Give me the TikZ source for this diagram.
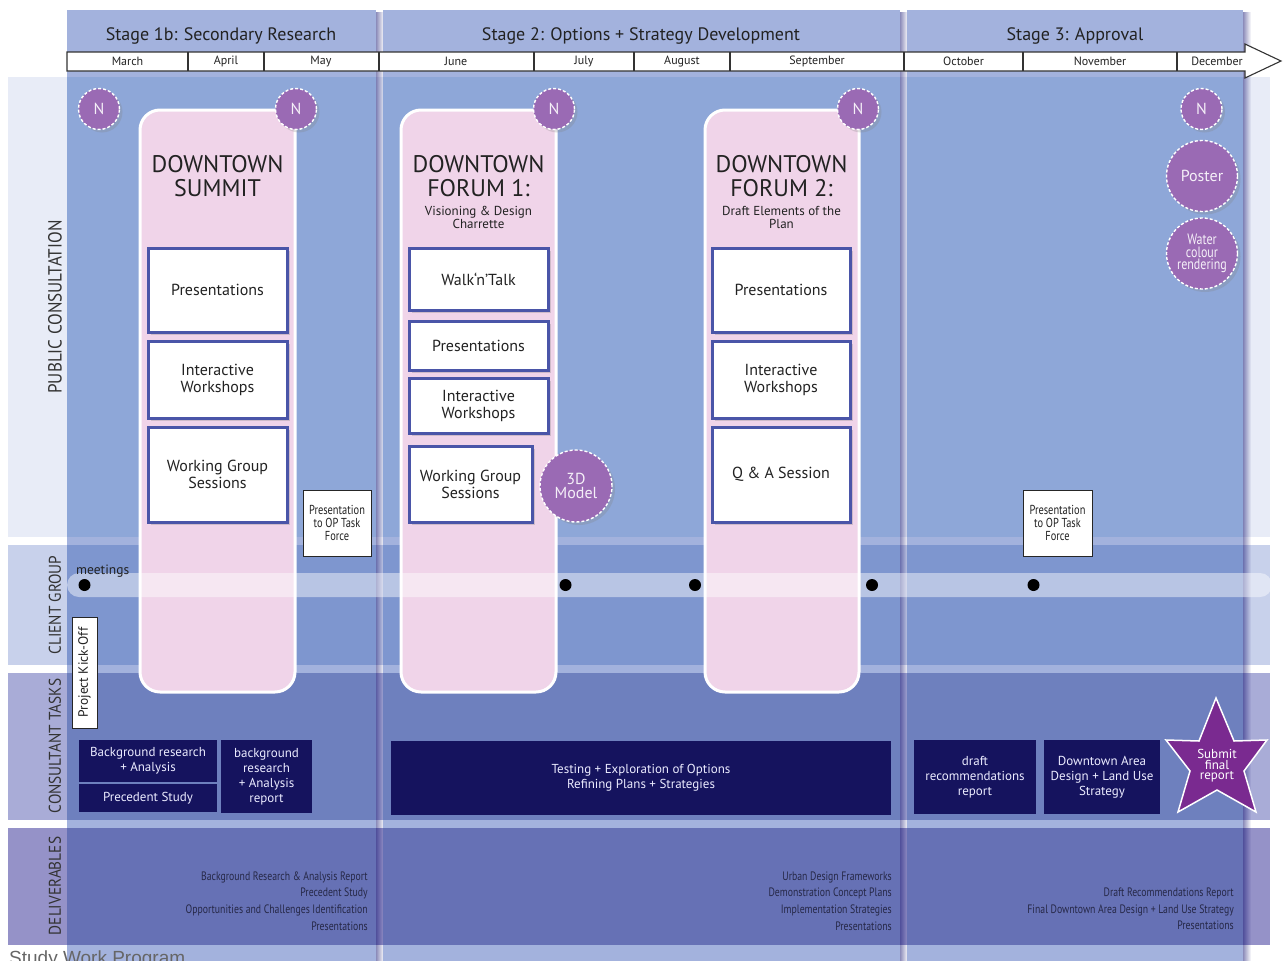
\documentclass[tikz,border=0pt]{standalone}
\usepackage{fontspec}
\setmainfont{PT Sans}
\newfontfamily\narrowf[FakeStretch=0.8]{PT Sans}
\newfontfamily\labelf[FakeStretch=0.9]{PT Sans}
\newfontfamily\arialf{Liberation Sans}
\usetikzlibrary{shadows,fadings,shapes.geometric}
\definecolor{rowPC}{HTML}{E8ECF7}
\definecolor{rowCG}{HTML}{C8D1EB}
\definecolor{rowCT}{HTML}{A9ACD7}
\definecolor{rowDL}{HTML}{9592C8}
\definecolor{colTop}{HTML}{A3B2DD}
\definecolor{colPC}{HTML}{8EA7D8}
\definecolor{colCG}{HTML}{7E96CF}
\definecolor{colCT}{HTML}{6E80BE}
\definecolor{colDL}{HTML}{6671B5}
\definecolor{pinkF}{HTML}{F0D4E9}
\definecolor{boxBorder}{HTML}{4A55A8}
\definecolor{navyF}{HTML}{15135E}
\definecolor{circP}{HTML}{9A6AB4}
\definecolor{starP}{HTML}{7A2A90}
\definecolor{txt}{HTML}{222222}
\definecolor{delTxt}{HTML}{262847}
\tikzfading[name=fade right, left color=transparent!0, right color=transparent!100]
\begin{document}
\begin{tikzpicture}[x=1pt,y=-1pt,
  pinkbox/.style={fill=pinkF, draw=white, line width=3pt, rounded corners=20pt},
  wbox/.style={draw=boxBorder, line width=3pt, fill=white, inner sep=0pt, align=center,
     text=txt, font=\fontsize{16}{17}\selectfont,
     drop shadow={shadow xshift=3pt, shadow yshift=-3pt, opacity=0.3}},
  ncirc/.style={circle, fill=circP, draw=white, densely dashed, line width=1.4pt,
     inner sep=0pt, text=white!90!circP, align=center,
     drop shadow={shadow xshift=3pt, shadow yshift=-3pt, opacity=0.25}},
  cbox/.style={fill=navyF, inner sep=0pt, align=center, text=white!92!blue,
     font=\fontsize{13}{15}\selectfont},
  optf/.style={draw=black!85, fill=white, line width=1pt, inner sep=0pt, align=center,
     text=txt, font=\narrowf\fontsize{13}{13}\selectfont},
  deliv/.style={anchor=east, align=right, inner sep=0pt, text=delTxt,
     font=\narrowf\fontsize{12.2}{16.7}\selectfont},
  rowlabel/.style={rotate=90, text=black!80, font=\labelf\fontsize{17}{17}\selectfont},
  month/.style={text=txt, font=\fontsize{12}{12}\selectfont},
  stagetitle/.style={text=txt, font=\fontsize{18}{18}\selectfont},
  forumtitle/.style={text=txt, align=center, font=\fontsize{24}{23.5}\selectfont},
  forumsub/.style={text=txt, align=center, font=\fontsize{13}{13}\selectfont},
  dot/.style={circle, fill=black, inner sep=0pt, minimum size=12pt}
]
\useasboundingbox (0,0) rectangle (1283,961);
% rows
\fill[rowPC] (8,77) rectangle (1270,537);
\fill[rowCG] (8,545) rectangle (1270,665);
\fill[rowCT] (8,673) rectangle (1270,820);
\fill[rowDL] (8,828) rectangle (1270,945);
% stage columns
\foreach \a/\b in {67/376,383/900,907/1243}{
  \fill[colTop] (\a,10) rectangle (\b,961);
  \fill[colPC] (\a,77) rectangle (\b,537);
  \fill[colCG] (\a,545) rectangle (\b,665);
  \fill[colCT] (\a,673) rectangle (\b,820);
  \fill[colDL] (\a,828) rectangle (\b,945);
  \fill[black!60!blue, opacity=0.45, path fading=fade right] (\b,10) rectangle (\b+8,961);
}
% stage titles
\node[stagetitle] (s1) at (221,36) {Stage 1b: Secondary Research};
\node[stagetitle] (s2) at (641,36) {Stage 2: Options + Strategy Development};
\node[stagetitle] (s3) at (1075,36) {Stage 3: Approval};
% timeline
\draw[fill=white, draw=black!80, line width=1.1pt] (67,52) -- (1245,52) -- (1245,44) -- (1281,61) -- (1245,78) -- (1245,71) -- (67,71) -- cycle;
\foreach \x in {188,264,379,534,634,730,904,1023,1177}{
  \draw[black!80, line width=1.1pt] (\x,52) -- (\x,71);
}
\node[month] (m1) at (127.5,61.5) {March};
\node[month] (m2) at (226,61.5) {April};
\node[month] (m3) at (321,61.5) {May};
\node[month] (m4) at (456,61.5) {June};
\node[month] (m5) at (584,61.5) {July};
\node[month] (m6) at (682,61.5) {August};
\node[month] (m7) at (817,61.5) {September};
\node[month] (m8) at (963.5,61.5) {October};
\node[month] (m9) at (1100,61.5) {November};
\node[month] (m10) at (1217,61.5) {December};
% row labels
\node[rowlabel, font=\labelf\fontsize{19}{19}\selectfont] (lpc) at (55,307) {PUBLIC CONSULTATION};
\node[rowlabel] (lcg) at (55,605) {CLIENT GROUP};
\node[rowlabel] (lct) at (55,746) {CONSULTANT TASKS};
\node[rowlabel] (ldl) at (55,886) {DELIVERABLES};
% pink forum boxes
\draw[pinkbox] (140,110) rectangle (295,692);
\draw[pinkbox] (401,110) rectangle (556,692);
\draw[pinkbox] (705,110) rectangle (859,692);
\node[forumtitle] (t1) at (217.5,176) {DOWNTOWN\\SUMMIT};
\node[forumtitle] (t2) at (478.5,176) {DOWNTOWN\\FORUM 1:};
\node[forumsub] (t2s) at (478.5,217.5) {Visioning \& Design\\Charrette};
\node[forumtitle] (t3) at (781.5,176) {DOWNTOWN\\FORUM 2:};
\node[forumsub] (t3s) at (781.5,217.5) {Draft Elements of the\\Plan};
% white boxes
\node[wbox, minimum width=139pt, minimum height=84pt] (a1) at (217.5,290) {Presentations};
\node[wbox, minimum width=139pt, minimum height=77pt] (a2) at (217.5,379.5) {Interactive\\Workshops};
\node[wbox, minimum width=139pt, minimum height=95pt] (a3) at (217.5,474.5) {Working Group\\Sessions};
\node[wbox, minimum width=139pt, minimum height=62pt] (b1) at (478.5,279) {Walk`n'Talk};
\node[wbox, minimum width=139pt, minimum height=49pt] (b2) at (478.5,345.5) {Presentations};
\node[wbox, minimum width=139pt, minimum height=55pt] (b3) at (478.5,405.5) {Interactive\\Workshops};
\node[wbox, minimum width=123pt, minimum height=76pt] (b4) at (470.5,484) {Working Group\\Sessions};
\node[wbox, minimum width=138pt, minimum height=84pt] (c1) at (781,290) {Presentations};
\node[wbox, minimum width=138pt, minimum height=77pt] (c2) at (781,379.5) {Interactive\\Workshops};
\node[wbox, minimum width=138pt, minimum height=95pt] (c3) at (781,474.5) {Q \& A Session};
% task force boxes
\node[optf, minimum width=68pt, minimum height=66pt] (op1) at (337,523) {Presentation\\to OP Task\\Force};
\node[optf, minimum width=69pt, minimum height=66pt] (op2) at (1057.5,523) {Presentation\\to OP Task\\Force};
% circles
\node[ncirc, minimum size=41pt, font=\fontsize{16}{16}\selectfont] (n1) at (99,109) {N};
\node[ncirc, minimum size=41pt, font=\fontsize{16}{16}\selectfont] (n2) at (296,109) {N};
\node[ncirc, minimum size=41pt, font=\fontsize{16}{16}\selectfont] (n3) at (554,109) {N};
\node[ncirc, minimum size=41pt, font=\fontsize{16}{16}\selectfont] (n4) at (858,109) {N};
\node[ncirc, minimum size=41pt, font=\fontsize{16}{16}\selectfont] (n5) at (1201.5,109) {N};
\node[ncirc, minimum size=71pt, font=\fontsize{16}{16}\selectfont] (poster) at (1202,176) {Poster};
\node[ncirc, minimum size=71pt, font=\narrowf\fontsize{15}{12.5}\selectfont] (water) at (1202,253.5) {Water\\colour\\rendering};
\node[ncirc, minimum size=72pt, font=\fontsize{16}{13.5}\selectfont] (model) at (576,486) {3D\\Model};
% client group bar
\fill[white, opacity=0.45, rounded corners=12pt] (67,573) rectangle (1272,597);
\node[anchor=base west, inner sep=0pt, text=txt, font=\fontsize{13.5}{13.5}\selectfont] (meet) at (76,574) {meetings};
\node[dot] (d1) at (84.5,585) {};
\node[dot] (d2) at (565.5,585) {};
\node[dot] (d3) at (695,585) {};
\node[dot] (d4) at (872,585) {};
\node[dot] (d5) at (1033.5,585) {};
% kick-off
\node[draw=black!85, fill=white, line width=1pt, minimum width=111pt, minimum height=25pt, inner sep=0pt, rotate=90, text=txt, font=\fontsize{13.5}{13.5}\selectfont] (kick) at (84.5,672.5) {Project Kick-Off};
% consultant task boxes
\node[cbox, minimum width=138pt, minimum height=42pt] (k1) at (148,761) {Background research\\+ Analysis};
\node[cbox, minimum width=138pt, minimum height=28pt] (k2) at (148,798) {Precedent Study};
\node[cbox, minimum width=91pt, minimum height=73pt] (k3) at (266.5,776.5) {background\\research\\+ Analysis\\report};
\node[cbox, minimum width=500pt, minimum height=74pt, font=\fontsize{13}{15.5}\selectfont] (k4) at (641,777.5) {Testing + Exploration of Options\\Refining Plans + Strategies};
\node[cbox, minimum width=122pt, minimum height=74pt] (k5) at (975,777) {draft\\recommendations\\report};
\node[cbox, minimum width=116pt, minimum height=74pt] (k6) at (1102,777) {Downtown Area\\Design + Land Use\\Strategy};
% star
\draw[fill=starP, draw=white, line width=1.5pt, line join=miter] (1216,698) -- (1234,741) -- (1267,740) -- (1244,771) -- (1256,812) -- (1217,790) -- (1178,812) -- (1190,771) -- (1166,740) -- (1199,741) -- cycle;
\node[align=center, text=white, font=\fontsize{13}{10.5}\selectfont] (star) at (1217,766) {Submit\\final\\report};
% deliverables
\node[deliv] (dl1) at (368,901) {Background Research \& Analysis Report\\Precedent Study\\Opportunities and Challenges Identification\\Presentations};
\node[deliv] (dl2) at (892,901) {Urban Design Frameworks\\Demonstration Concept Plans\\Implementation Strategies\\Presentations};
\node[deliv] (dl3) at (1234,909) {Draft Recommendations Report\\Final Downtown Area Design + Land Use Strategy\\Presentations};
% caption
\node[anchor=base west, inner sep=0pt, text=black!60, font=\arialf\fontsize{19}{19}\selectfont] (cap) at (9,964) {Study Work Program};
\end{tikzpicture}
\end{document}
